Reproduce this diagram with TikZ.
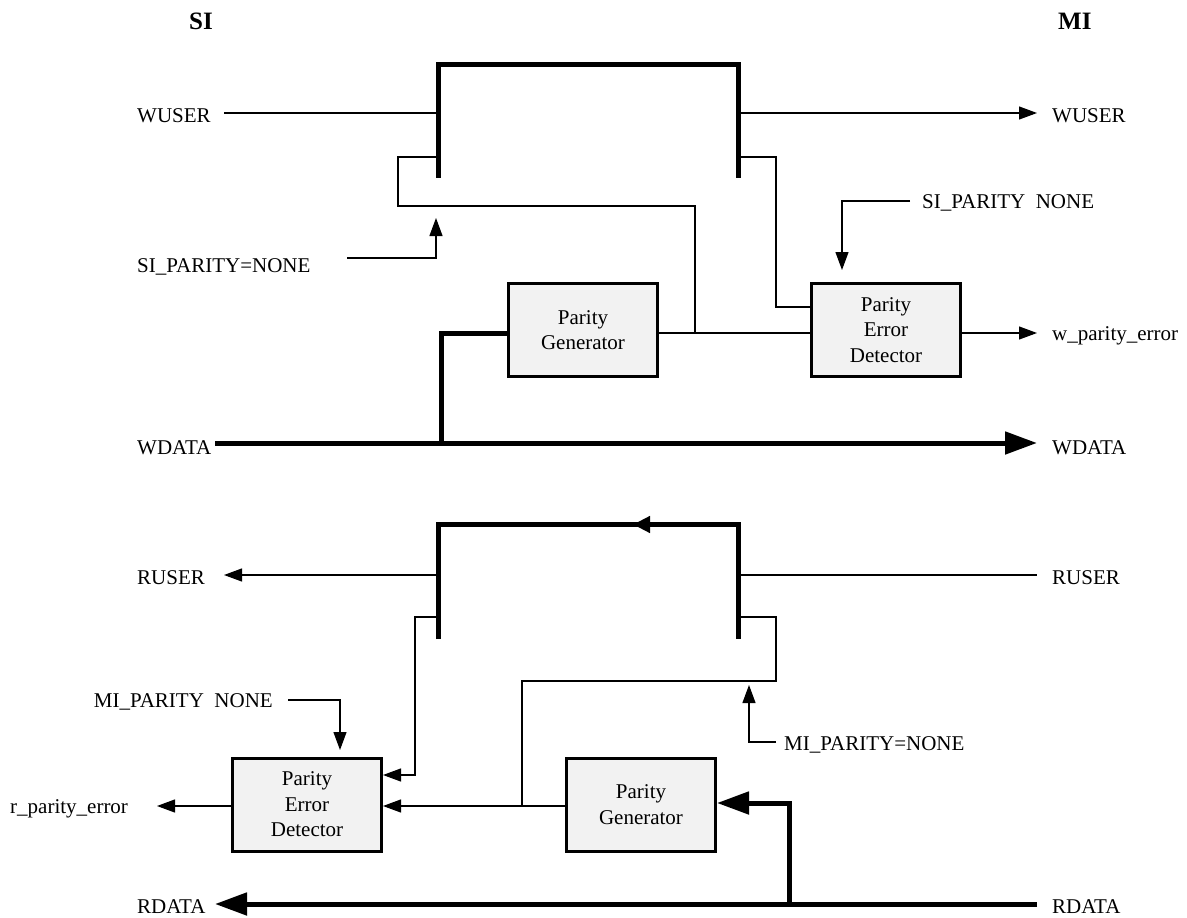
\documentclass[tikz,border=0pt]{standalone}
\usepackage{fontspec}
\setmainfont{Liberation Serif}
\usetikzlibrary{arrows.meta}
\tikzset{
  wire/.style={line width=1.2pt, line join=miter},
  bus/.style={line width=5pt, line join=miter},
  tip/.style={-{Triangle[length=18pt,width=13pt]}},
  btip/.style={-{Triangle[length=32pt,width=22pt]}},
  blk/.style={draw, line width=3pt, fill=gray!10, minimum width=149pt, minimum height=93pt,
              align=center, inner sep=0pt, font=\fontsize{21}{25.5}\selectfont},
  lbl/.style={inner sep=0pt, font=\fontsize{21}{25}\selectfont},
  hdr/.style={inner sep=0pt, font=\fontsize{25}{30}\selectfont\bfseries},
}
\begin{document}
\begin{tikzpicture}[x=1pt,y=-1pt]
\useasboundingbox (0,0) rectangle (1187,918);

% headers
\node[hdr,anchor=base west] (SI) at (189,30) {SI};
\node[hdr,anchor=base west] (MI) at (1058,30) {MI};

% ================= write channel =================
\node[lbl,anchor=base west] (wuserL) at (137,122.5) {WUSER};
\node[lbl,anchor=base west] (wuserR) at (1052,122.5) {WUSER};
\node[lbl,anchor=base west] (wdataL) at (137,454) {WDATA};
\node[lbl,anchor=base west] (wdataR) at (1052,454) {WDATA};
\node[lbl,anchor=base west] (siparA) at (137,272) {SI\_PARITY=NONE};
\node[lbl,anchor=base west] (siparB) at (922,208) {SI\_PARITY\ \ NONE};
\node[lbl,anchor=base west] (wperr) at (1052,340) {w\_parity\_error};

\node[blk] (pg1) at (583,330) {Parity\\Generator};
\node[blk] (ped1) at (886,330) {Parity\\Error\\Detector};

\coordinate (s1a) at (438.5,177.5);
\coordinate (s1b) at (438.5,64);
\coordinate (s1c) at (738.5,64);
\coordinate (s1d) at (738.5,177.5);
\coordinate (yW) at (0,333);
\coordinate (yWu) at (0,113);
\coordinate (yWf) at (0,157);
\coordinate (yWd) at (0,443);
\coordinate (wuA) at (224,113);
\coordinate (wuB) at (1037,113);
\coordinate (lpL) at (398,206);
\coordinate (jW) at (695,333);
\coordinate (lpR) at (776,307);
\coordinate (spA) at (347,258);
\coordinate (spAt) at (436,218);
\coordinate (spB) at (910,201);
\coordinate (spBt) at (842,270);
\coordinate (weT) at (1037,333);
\coordinate (wdA) at (215,443);
\coordinate (wdB) at (1037,443);
\coordinate (wdJ) at (441,443);

\draw[bus] (s1a) -- (s1b) -- (s1c) -- (s1d);
\draw[wire] (wuA) -- (s1a |- yWu);
\draw[wire,tip] (s1d |- yWu) -- (wuB);
\draw[wire] (s1a |- yWf) -| (lpL) -| (jW);
\draw[wire] (s1d |- yWf) -| (lpR) -- (ped1.west |- lpR);
\draw[wire] (pg1.east |- yW) -- (ped1.west |- yW);
\draw[wire,tip] (spA) -| (spAt);
\draw[wire,tip] (spB) -| (spBt);
\draw[wire,tip] (ped1.east |- yW) -- (weT);
\draw[bus,btip] (wdA) -- (wdB);
\draw[bus] (wdJ) |- (pg1.west |- yW);

% ================= read channel =================
\node[lbl,anchor=base west] (ruserL) at (137,584) {RUSER};
\node[lbl,anchor=base west] (ruserR) at (1052,584) {RUSER};
\node[lbl,anchor=base west] (rdataL) at (137,913) {RDATA};
\node[lbl,anchor=base west] (rdataR) at (1052,913) {RDATA};
\node[lbl,anchor=base east] (miparA) at (273,707) {MI\_PARITY\ \ NONE};
\node[lbl,anchor=base west] (miparB) at (784,750) {MI\_PARITY=NONE};
\node[lbl,anchor=base west] (rperr) at (10,813) {r\_parity\_error};

\node[blk] (ped2) at (307,804.5) {Parity\\Error\\Detector};
\node[blk] (pg2) at (641,804.5) {Parity\\Generator};

\coordinate (s2a) at (438.5,639);
\coordinate (s2b) at (438.5,524.5);
\coordinate (s2c) at (738.5,524.5);
\coordinate (s2d) at (738.5,639);
\coordinate (s2m) at (700,524.5);
\coordinate (s2t) at (633,524.5);
\coordinate (yRu) at (0,575);
\coordinate (yRf) at (0,617);
\coordinate (yR1) at (0,775);
\coordinate (yR2) at (0,806);
\coordinate (yRg) at (0,803);
\coordinate (ruA) at (224,575);
\coordinate (ruB) at (1037,575);
\coordinate (lp2L) at (415,775);
\coordinate (lp2R) at (776,681);
\coordinate (jR) at (522,806);
\coordinate (mpB) at (776,742);
\coordinate (mpBt) at (749,685);
\coordinate (mpA) at (288,700);
\coordinate (mpAt) at (340,750);
\coordinate (reT) at (157,806);
\coordinate (rdA) at (1037,904);
\coordinate (rdB) at (215,904);
\coordinate (rdJ) at (789,904);

\draw[bus] (s2a) -- (s2b) -- (s2c) -- (s2d);
\draw[line width=5pt,-{Triangle[length=17pt,width=16pt]}] (s2m) -- (s2t);
\draw[wire,tip] (s2a |- yRu) -- (ruA);
\draw[wire] (s2d |- yRu) -- (ruB);
\draw[wire,tip] (s2a |- yRf) -| (lp2L) -- (ped2.east |- yR1);
\draw[wire] (s2d |- yRf) -| (lp2R) -| (jR);
\draw[wire,tip] (pg2.west |- yR2) -- (ped2.east |- yR2);
\draw[wire,tip] (mpB) -| (mpBt);
\draw[wire,tip] (mpA) -| (mpAt);
\draw[wire,tip] (ped2.west |- yR2) -- (reT);
\draw[bus,btip] (rdA) -- (rdB);
\draw[bus,btip] (rdJ) |- (pg2.east |- yRg);
\end{tikzpicture}
\end{document}
